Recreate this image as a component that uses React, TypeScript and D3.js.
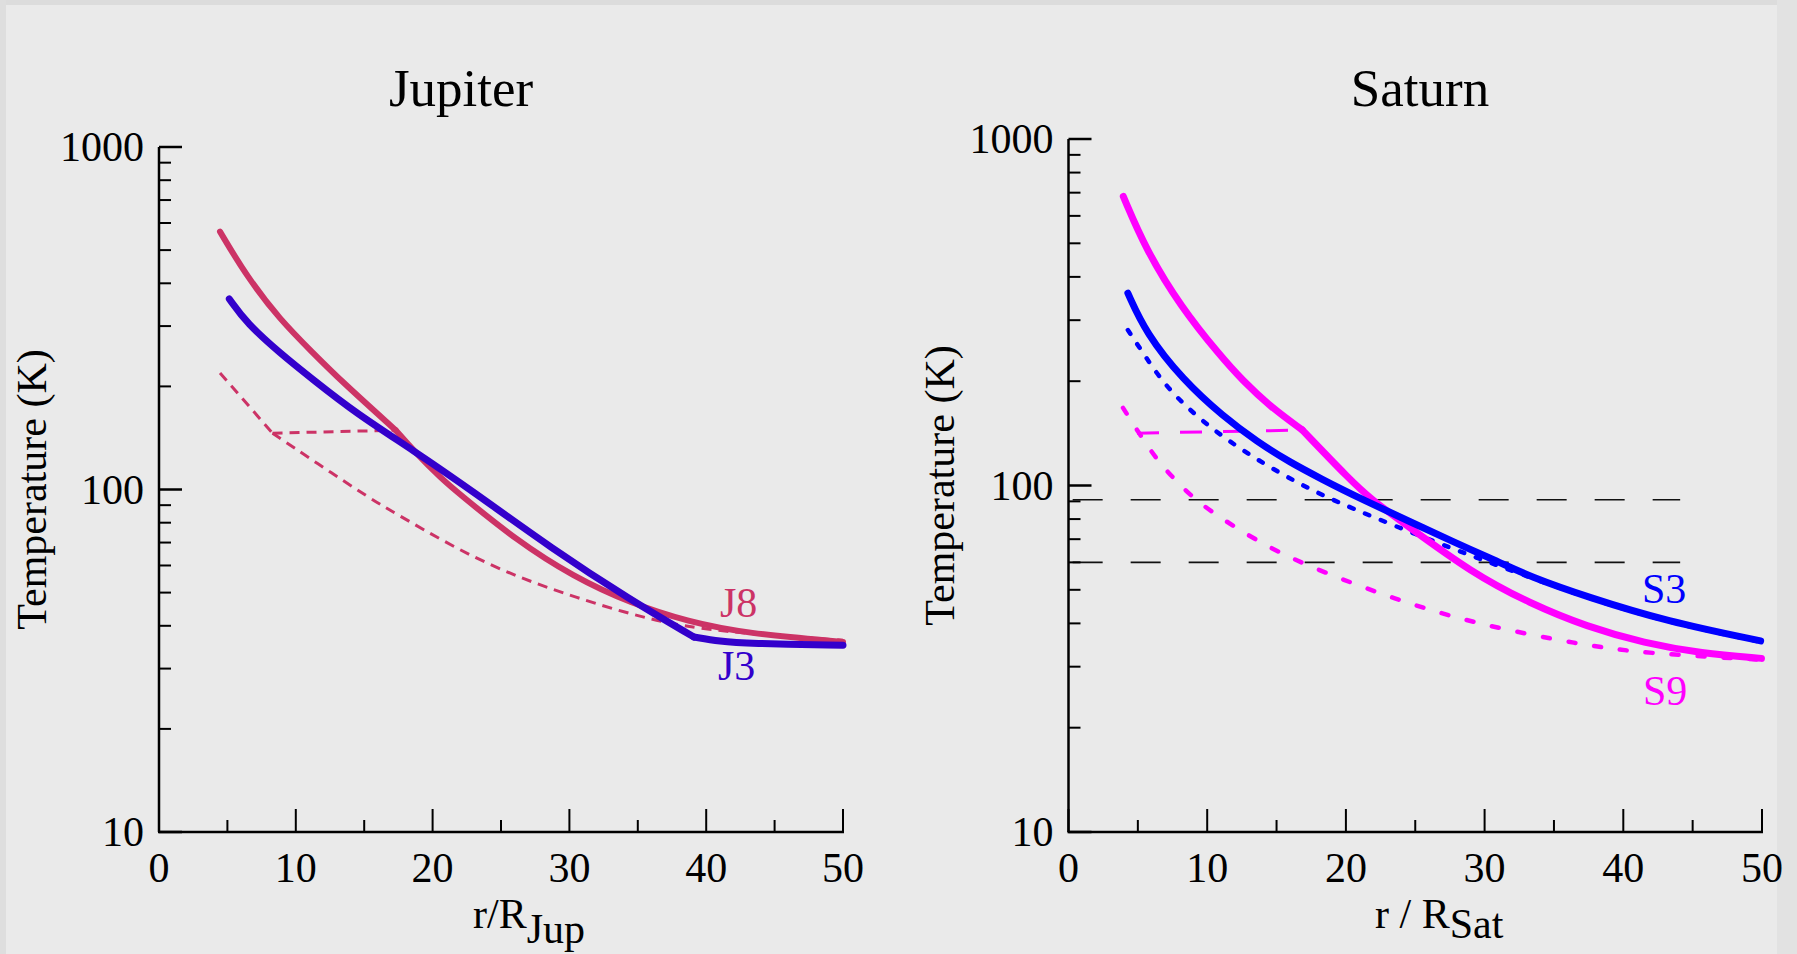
import * as d3 from 'd3';

const W = 1797;
const H = 954;
const FONT = '"Liberation Serif", "Times New Roman", serif';

// Jupiter: [r / R_Jup, T (K)]; curves with a kink are kept as two pieces
const jupJ8Inner: [number, number][] = [
  [4.46, 566], [6.41, 419], [8.85, 313], [11.28, 250], [13.23, 209], [17.3, 149],
];
const jupJ8Outer: [number, number][] = [
  [17.3, 149], [18.6, 130], [20.7, 107], [21.9, 97.5], [26.1, 71.2], [30.3, 55.6],
  [34.5, 46.5], [38.7, 41.1], [42.9, 38], [50, 35.9],
];
const jupJ3Inner: [number, number][] = [
  [5.14, 360], [6.41, 306], [8.85, 250], [11.28, 209], [14.4, 167], [18.6, 130],
  [22.8, 99.7], [28.7, 67.3], [34.5, 47.5], [39.1, 37.1],
];
const jupJ3Outer: [number, number][] = [
  [39.1, 37.1], [41, 36], [43, 35.5], [50, 35.1],
];
const jupJ8DashInner: [number, number][] = [[4.46, 219], [8.3, 146]];
const jupJ8DashOuter: [number, number][] = [
  [8.3, 146], [11.45, 120], [15.64, 93], [16.9, 87], [21.93, 66.4], [26.14, 55.6],
  [30.33, 48.6], [35.8, 41.6], [40.8, 38.4], [50, 36.3],
];
const jupJ8Branch: [number, number][] = [[8.3, 146], [17.3, 149]];

// Saturn: [r / R_Sat, T (K)]
const satS9Inner: [number, number][] = [
  [3.95, 683], [5.59, 479], [8.07, 329], [10.97, 236], [12.5, 202], [14.54, 169],
  [16.85, 144.7],
];
const satS9Outer: [number, number][] = [
  [16.85, 144.7], [20.31, 103.7], [21.83, 91.2], [24.18, 77.8], [29.13, 55.8],
  [33.26, 45.7], [37.39, 39.1], [41.52, 35.1], [45.63, 32.8], [49.96, 31.7],
];
const satS3: [number, number][] = [
  [4.28, 359], [5.59, 275], [8.24, 202], [11.17, 158], [13.58, 134], [15.98, 116.5],
  [18.38, 103.8], [20.31, 94.6], [28.72, 65.9], [30.99, 60.3], [33.26, 54.6],
  [37.39, 47.7], [43.16, 40.5], [49.9, 35.6],
];
const satS3Dash: [number, number][] = [
  [4.28, 281], [5.59, 234], [7.18, 189], [9.88, 150], [12.99, 122.6], [16.59, 101.1],
  [20.02, 87.1], [26.66, 68.1], [31, 58.6], [37.4, 47.3], [43.2, 40.3], [49.9, 35.4],
];
const satS9Dash: [number, number][] = [
  [3.93, 167.5], [5.16, 140], [6.39, 118.5], [7.54, 105.2], [8.91, 92.7], [10.43, 83.3],
  [13.44, 69.7], [16.75, 59.6], [22.94, 47.8], [29.13, 40], [36.98, 34.7], [41.5, 32.8],
  [50, 31.4],
];
const satS9Branch: [number, number][] = [[4.94, 141.6], [16.85, 144.5]];
const satLevels = [91, 60];

const xMajor = [0, 10, 20, 30, 40, 50];
const xMinor = [5, 15, 25, 35, 45];
const yMajor = [10, 100, 1000];
const yMinor = [20, 30, 40, 50, 60, 70, 80, 90, 200, 300, 400, 500, 600, 700, 800, 900];

type Series = {
  data: [number, number][];
  color: string;
  width: number;
  dash?: string;
  cap?: 'round' | 'butt';
  linear?: boolean;
};

type Label = { text: string; x: number; y: number; color: string };

type PanelProps = {
  title: string;
  titleX: number;
  x0: number;
  x1: number;
  yTop: number;
  yBot: number;
  ylabelX: number;
  xlabelX: number;
  xlabelMain: string;
  xlabelSub: string;
  subDy: number;
  series: Series[];
  levels?: number[];
  labels: Label[];
};

function Panel(p: PanelProps) {
  const x = d3.scaleLinear().domain([0, 50]).range([p.x0, p.x1]);
  const y = d3.scaleLog().domain([10, 1000]).range([p.yBot, p.yTop]);
  const smooth = d3.line<[number, number]>()
    .x(d => x(d[0]))
    .y(d => y(d[1]))
    .curve(d3.curveBasis);
  const straight = d3.line<[number, number]>()
    .x(d => x(d[0]))
    .y(d => y(d[1]));
  const major = 23;
  const minor = 12;
  const midY = (p.yTop + p.yBot) / 2;

  return (
    <g fontFamily={FONT}>
      <text x={p.titleX} y={106} fontSize={53} textAnchor="middle">{p.title}</text>

      {(p.levels || []).map(v => (
        <line key={v} x1={x(0.3)} x2={x(44.1)} y1={y(v)} y2={y(v)}
          stroke="#111" strokeWidth={1.6} strokeDasharray="30,28" />
      ))}

      {p.series.map((s, i) => (
        <path key={i} d={(s.linear ? straight : smooth)(s.data) || ''} fill="none"
          stroke={s.color} strokeWidth={s.width} strokeDasharray={s.dash}
          strokeLinecap={s.cap || 'round'} strokeLinejoin="round" />
      ))}

      {/* axes */}
      <line x1={x(0)} x2={x(0)} y1={y(1000)} y2={y(10)} stroke="#000" strokeWidth={2.5} />
      <line x1={x(0) - 1} x2={x(50) + 1} y1={y(10)} y2={y(10)} stroke="#000" strokeWidth={2.5} />
      {yMajor.map(v => (
        <line key={'ym' + v} x1={x(0)} x2={x(0) + major} y1={y(v)} y2={y(v)} stroke="#000" strokeWidth={2.5} />
      ))}
      {yMinor.map(v => (
        <line key={'yn' + v} x1={x(0)} x2={x(0) + minor} y1={y(v)} y2={y(v)} stroke="#000" strokeWidth={2} />
      ))}
      {xMajor.map(v => (
        <line key={'xm' + v} x1={x(v)} x2={x(v)} y1={y(10)} y2={y(10) - major} stroke="#000" strokeWidth={2} />
      ))}
      {xMinor.map(v => (
        <line key={'xn' + v} x1={x(v)} x2={x(v)} y1={y(10)} y2={y(10) - minor} stroke="#000" strokeWidth={2} />
      ))}
      {yMajor.map(v => (
        <text key={'yl' + v} x={x(0) - 15} y={y(v) + 14} fontSize={42} textAnchor="end">{v}</text>
      ))}
      {xMajor.map(v => (
        <text key={'xl' + v} x={x(v)} y={882} fontSize={42} textAnchor="middle">{v}</text>
      ))}

      <text transform={`translate(${p.ylabelX},${midY}) rotate(-90)`} fontSize={42} textAnchor="middle">
        Temperature (K)
      </text>
      <text x={p.xlabelX} y={928} fontSize={42}>
        {p.xlabelMain}
        <tspan dy={p.subDy}>{p.xlabelSub}</tspan>
      </text>

      {p.labels.map(l => (
        <text key={l.text} x={l.x} y={l.y} fontSize={42} fill={l.color}>{l.text}</text>
      ))}
    </g>
  );
}

export default function App() {
  const crimson = '#cc3366';
  const violet = '#3300cc';
  const blue = '#0000ff';
  const magenta = '#ff00ff';

  return (
    <div style={{ position: 'fixed', left: 0, top: 0, width: W, height: H }}>
      <svg width={W} height={H} viewBox={`0 0 ${W} ${H}`} style={{ display: 'block' }}>
        <rect x={0} y={0} width={W} height={H} fill="#eaeaea" />
        <rect x={0} y={0} width={W} height={5} fill="#dcdcdc" />
        <rect x={0} y={0} width={6} height={H} fill="#dedede" />
        <rect x={1777} y={0} width={W - 1777} height={H} fill="#e2e2e2" />

        <Panel
          title="Jupiter" titleX={461}
          x0={159} x1={843} yTop={147} yBot={832}
          ylabelX={46} xlabelX={473}
          xlabelMain="r/R" xlabelSub="Jup" subDy={15}
          series={[
            { data: jupJ8DashInner, color: crimson, width: 3, dash: '10,7', cap: 'butt' },
            { data: jupJ8DashOuter, color: crimson, width: 3, dash: '10,7', cap: 'butt' },
            { data: jupJ8Branch, color: crimson, width: 3, dash: '10,7', cap: 'butt', linear: true },
            { data: jupJ8Inner, color: crimson, width: 6 },
            { data: jupJ8Outer, color: crimson, width: 6 },
            { data: jupJ3Inner, color: violet, width: 7 },
            { data: jupJ3Outer, color: violet, width: 7 },
          ]}
          labels={[
            { text: 'J8', x: 720, y: 617, color: crimson },
            { text: 'J3', x: 718, y: 680, color: violet },
          ]}
        />

        <Panel
          title="Saturn" titleX={1420}
          x0={1068.5} x1={1762} yTop={139} yBot={832}
          ylabelX={954} xlabelX={1375}
          xlabelMain="r / R" xlabelSub="Sat" subDy={10}
          levels={satLevels}
          series={[
            { data: satS9Dash, color: magenta, width: 4.5, dash: '7,19' },
            { data: satS9Branch, color: magenta, width: 3, dash: '22,21', cap: 'butt', linear: true },
            { data: satS3Dash, color: blue, width: 4.5, dash: '4.5,12.5' },
            { data: satS9Inner, color: magenta, width: 7 },
            { data: satS9Outer, color: magenta, width: 7 },
            { data: satS3, color: blue, width: 7 },
          ]}
          labels={[
            { text: 'S3', x: 1642, y: 603, color: blue },
            { text: 'S9', x: 1643, y: 705, color: magenta },
          ]}
        />
      </svg>
    </div>
  );
}
